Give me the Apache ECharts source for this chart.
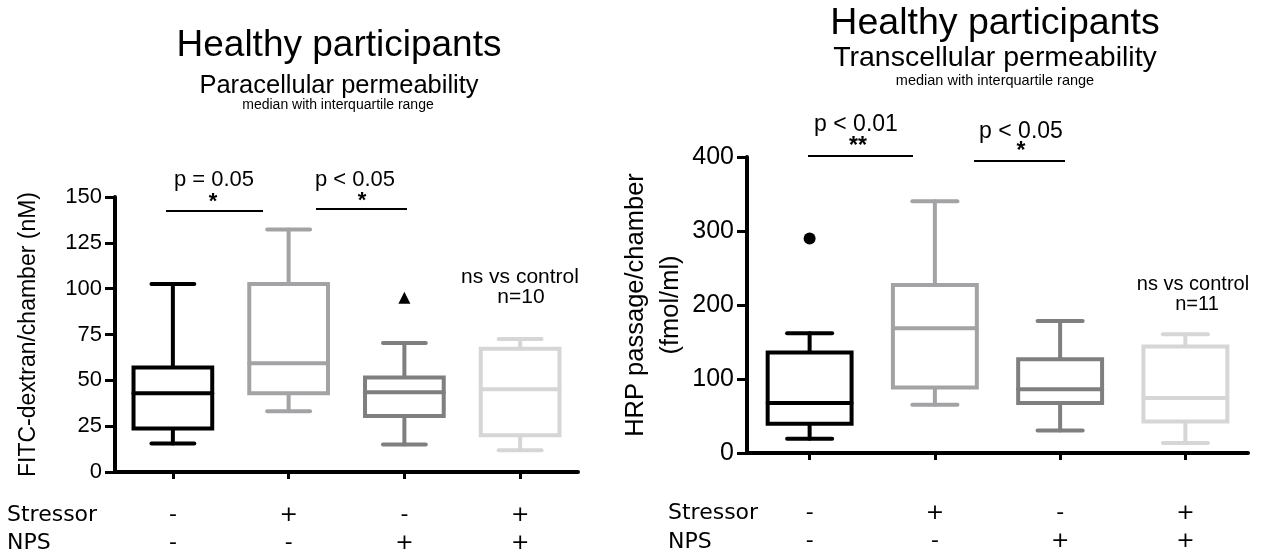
<!DOCTYPE html>
<html>
<head>
<meta charset="utf-8">
<script src="https://cdn.jsdelivr.net/npm/echarts@6/dist/echarts.min.js"></script>
<style>
  html, body { margin: 0; padding: 0; background: #fff; }
  #chart { width: 1262px; height: 557px; }
</style>
</head>
<body>
<div id="chart"></div>
<script>
// Treatment groups and the +/- condition rows printed beneath each axis
const groups = ['control', 'stressor', 'NPS', 'stressor + NPS'];
const stressorRow = ['-', '+', '-', '+'];
const npsRow = ['-', '-', '+', '+'];

// Paracellular permeability, FITC-dextran (nM): [min, Q1, median, Q3, max]
const fitcStats = [
  [15.5, 23.7, 43.0, 57.0, 102.6],
  [33.2, 42.9, 59.3, 102.6, 132.3],
  [15.0, 30.5, 43.5, 51.5, 70.3],
  [11.9, 20.1, 45.1, 67.2, 72.6]
];
const fitcOutliers = [[2, 95]];

// Transcellular permeability, HRP passage (fmol/ml): [min, Q1, median, Q3, max]
const hrpStats = [
  [19.3, 39.5, 67.4, 135.7, 161.8],
  [65.1, 88.5, 168.6, 227.0, 340.3],
  [30.5, 67.4, 86.3, 126.7, 178.4],
  [13.5, 42.6, 74.2, 143.8, 160.5]
];
const hrpOutliers = [[0, 290]];

const fitcAxis = { min: 0, max: 150, interval: 25 };
const hrpAxis = { min: 0, max: 400, interval: 100 };

const boxColors = ['#000000', '#a3a3a6', '#7f7f7f', '#d6d6d6'];
const SANS = 'Liberation Sans, Arial, Helvetica, sans-serif';
const VERD = 'DejaVu Sans, Verdana, sans-serif';

// Box with whiskers and short caps, drawn from the axis scales
function boxRender(boxRatio, capRatio, lw) {
  return function (params, api) {
    const i = api.value(0);
    const low = api.coord([i, api.value(1)]);
    const q1 = api.coord([i, api.value(2)]);
    const med = api.coord([i, api.value(3)]);
    const q3 = api.coord([i, api.value(4)]);
    const high = api.coord([i, api.value(5)]);
    const band = api.size([1, 0])[0];
    const bw = band * boxRatio;
    const cw = band * capRatio;
    const x = low[0];
    const color = boxColors[i];
    const ls = { stroke: color, lineWidth: lw, fill: null, lineCap: 'round' };
    return {
      type: 'group',
      children: [
        { type: 'line', shape: { x1: x, y1: q3[1], x2: x, y2: high[1] }, style: ls },
        { type: 'line', shape: { x1: x, y1: q1[1], x2: x, y2: low[1] }, style: ls },
        { type: 'line', shape: { x1: x - cw / 2, y1: high[1], x2: x + cw / 2, y2: high[1] }, style: ls },
        { type: 'line', shape: { x1: x - cw / 2, y1: low[1], x2: x + cw / 2, y2: low[1] }, style: ls },
        { type: 'rect', shape: { x: x - bw / 2, y: q3[1], width: bw, height: q1[1] - q3[1] },
          style: { stroke: color, lineWidth: lw, fill: '#fff' } },
        { type: 'line', shape: { x1: x - bw / 2, y1: med[1], x2: x + bw / 2, y2: med[1] }, style: ls }
      ]
    };
  };
}

function toRows(stats) {
  return stats.map((s, i) => [i].concat(s));
}

function xAxisFor(gridIndex, margin) {
  return {
    type: 'category', gridIndex, data: groups, boundaryGap: true,
    axisLine: { show: true, lineStyle: { color: '#000', width: 4 } },
    axisTick: { show: true, alignWithLabel: true, length: 7, lineStyle: { color: '#000', width: 3 } },
    axisLabel: {
      margin, color: '#000', fontFamily: VERD, fontSize: 22, lineHeight: 28,
      formatter: (v, idx) => stressorRow[idx] + '\n' + npsRow[idx]
    },
    splitLine: { show: false }
  };
}

function yAxisFor(gridIndex, range, name, nameGap, labelSize, nameSize, lineHeight) {
  return {
    type: 'value', gridIndex, min: range.min, max: range.max, interval: range.interval,
    name, nameLocation: 'middle', nameGap, nameRotate: 90,
    nameTextStyle: { fontFamily: SANS, fontSize: nameSize, color: '#000', lineHeight },
    axisLine: { show: true, lineStyle: { color: '#000', width: 4 } },
    axisTick: { show: true, length: 10, lineStyle: { color: '#000', width: 3 } },
    axisLabel: { margin: 13, color: '#000', fontFamily: SANS, fontSize: labelSize },
    splitLine: { show: false }
  };
}

function txt(text, x, y, size, weight) {
  return { type: 'text', silent: true, style: {
    text, x, y, fontSize: size, fontFamily: SANS, fontWeight: weight || 'normal', fill: '#000',
    align: 'center', verticalAlign: 'middle' } };
}
function txtLeft(text, x, y, size) {
  return { type: 'text', silent: true, style: {
    text, x, y, fontSize: size, fontFamily: VERD, fill: '#000',
    align: 'left', verticalAlign: 'middle' } };
}
function bar(x1, x2, y) {
  return { type: 'line', silent: true, shape: { x1, y1: y, x2, y2: y },
    style: { stroke: '#000', lineWidth: 2 } };
}

const chart = echarts.init(document.getElementById('chart'), null, { renderer: 'canvas' });

chart.setOption({
  animation: false,
  backgroundColor: '#fff',
  grid: [
    { left: 115, top: 197, width: 463, height: 275 },
    { left: 747, top: 157, width: 501, height: 296 }
  ],
  xAxis: [xAxisFor(0, 29), xAxisFor(1, 46)],
  yAxis: [
    yAxisFor(0, fitcAxis, 'FITC-dextran/chamber (nM)', 71, 22, 23, 30),
    yAxisFor(1, hrpAxis, 'HRP passage/chamber\n(fmol/ml)', 51, 25, 25.5, 35)
  ],
  series: [
    { type: 'custom', xAxisIndex: 0, yAxisIndex: 0, data: toRows(fitcStats),
      renderItem: boxRender(0.68, 0.37, 4), encode: { x: 0, y: [1, 2, 3, 4, 5] } },
    { type: 'custom', xAxisIndex: 1, yAxisIndex: 1, data: toRows(hrpStats),
      renderItem: boxRender(0.67, 0.36, 4), encode: { x: 0, y: [1, 2, 3, 4, 5] } },
    { type: 'scatter', xAxisIndex: 0, yAxisIndex: 0, data: fitcOutliers,
      symbol: 'triangle', symbolSize: 12, itemStyle: { color: '#000', opacity: 1 } },
    { type: 'scatter', xAxisIndex: 1, yAxisIndex: 1, data: hrpOutliers,
      symbol: 'circle', symbolSize: 12, itemStyle: { color: '#000', opacity: 1 } }
  ],
  graphic: [
    // left panel headings
    txt('Healthy participants', 339, 46, 37),
    txt('Paracellular permeability', 339, 86, 25.5),
    txt('median with interquartile range', 338, 105, 14),
    // right panel headings
    txt('Healthy participants', 995, 24, 37.5),
    txt('Transcellular permeability', 995, 58, 28.5),
    txt('median with interquartile range', 995, 81, 14.5),
    // left significance brackets
    txt('p = 0.05', 214, 180, 22), txt('*', 213, 202, 22, 'bold'), bar(166, 263, 211),
    txt('p < 0.05', 355, 180, 22), txt('*', 362, 201, 22, 'bold'), bar(316, 407, 209),
    txt('ns vs control', 520, 277, 21), txt('n=10', 521, 297, 21),
    // right significance brackets
    txt('p < 0.01', 856, 125, 23), txt('**', 858, 147, 23, 'bold'), bar(808, 913, 156),
    txt('p < 0.05', 1021, 132, 23), txt('*', 1021, 152, 23, 'bold'), bar(974, 1065, 161),
    txt('ns vs control', 1193, 284, 20), txt('n=11', 1197, 304, 20),
    // condition row headings
    txtLeft('Stressor', 7, 515, 22), txtLeft('NPS', 7, 543, 22),
    txtLeft('Stressor', 668, 513, 22), txtLeft('NPS', 668, 542, 22)
  ]
});
</script>
</body>
</html>
